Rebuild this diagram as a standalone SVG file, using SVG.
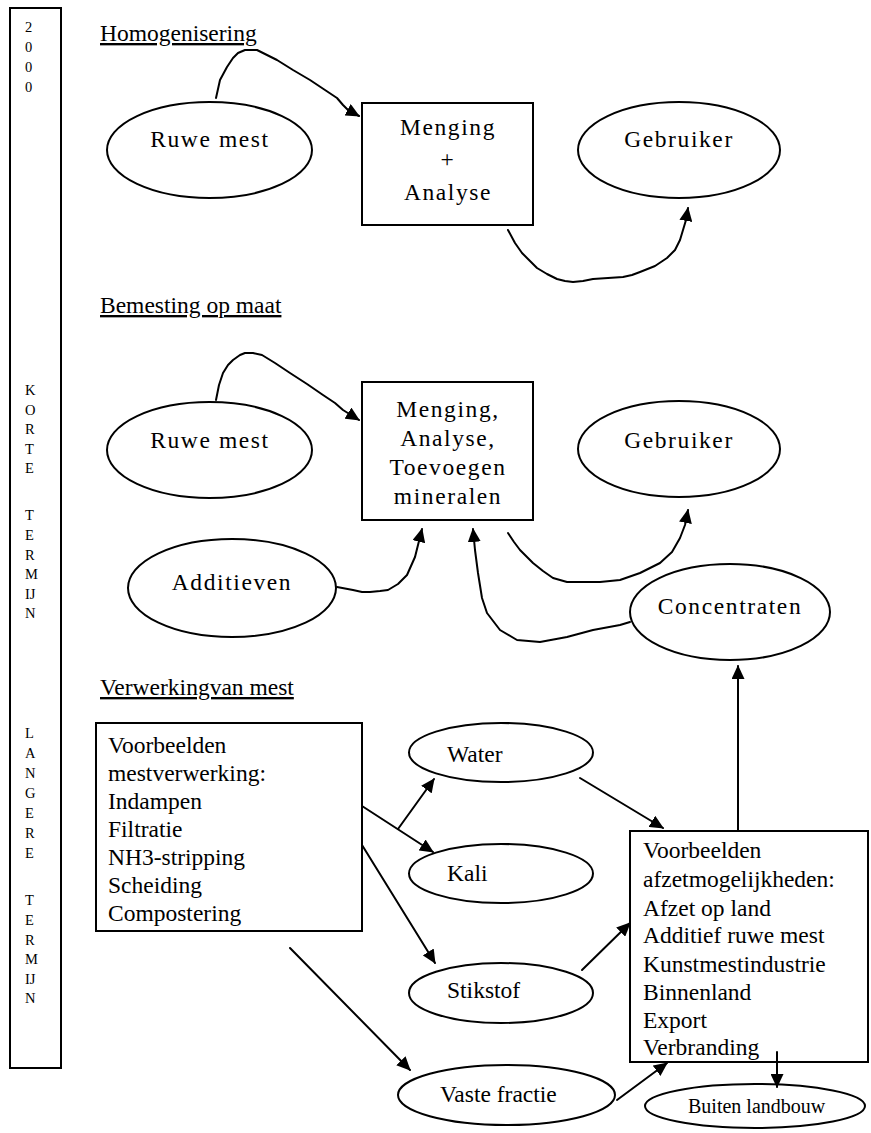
<svg xmlns="http://www.w3.org/2000/svg" width="871" height="1133" viewBox="0 0 871 1133">
<style>
.s{fill:none;stroke:#000;stroke-width:2}
.n{fill:#fff;stroke:#000;stroke-width:2}
.t{font-family:"Liberation Serif","Times New Roman",serif;font-size:23.5px;fill:#000}
.w{letter-spacing:1.6px}
.c{text-anchor:middle}
.h{text-decoration:underline}
.v{font-family:"Liberation Serif","Times New Roman",serif;font-size:14.5px;fill:#000}
.b{font-family:"Liberation Serif","Times New Roman",serif;font-size:20px;fill:#000}
.l{fill:none;stroke:#000;stroke-width:2;stroke-linejoin:round;stroke-linecap:round;marker-end:url(#ah)}
</style>
<defs>
<marker id="ah" markerUnits="userSpaceOnUse" markerWidth="14" markerHeight="13" viewBox="0 0 14 13" refX="13" refY="6.5" orient="auto">
<path d="M0,0 L14,6.5 L0,13 z" fill="#000"/>
</marker>
</defs>
<g id="timebar">
<rect x="10" y="8" width="51" height="1060" class="s" stroke-width="2.2"/>
<text class="v" x="25" y="32">2</text>
<text class="v" x="25" y="52">0</text>
<text class="v" x="25" y="72">0</text>
<text class="v" x="25" y="92">0</text>
<text class="v" x="25" y="395">K</text>
<text class="v" x="25" y="414.5">O</text>
<text class="v" x="25" y="434">R</text>
<text class="v" x="25" y="453.5">T</text>
<text class="v" x="25" y="473">E</text>
<text class="v" x="25" y="520">T</text>
<text class="v" x="25" y="540">E</text>
<text class="v" x="25" y="559.5">R</text>
<text class="v" x="25" y="579">M</text>
<text class="v" x="25" y="598.5">IJ</text>
<text class="v" x="25" y="618">N</text>
<text class="v" x="25" y="738">L</text>
<text class="v" x="25" y="758">A</text>
<text class="v" x="25" y="778">N</text>
<text class="v" x="25" y="798">G</text>
<text class="v" x="25" y="818">E</text>
<text class="v" x="25" y="838">R</text>
<text class="v" x="25" y="858">E</text>
<text class="v" x="25" y="905">T</text>
<text class="v" x="25" y="925">E</text>
<text class="v" x="25" y="945">R</text>
<text class="v" x="25" y="964">M</text>
<text class="v" x="25" y="984">IJ</text>
<text class="v" x="25" y="1003">N</text>
</g>
<g id="headings">
<text class="t h" x="100" y="41">Homogenisering</text>
<text class="t h" x="100" y="313">Bemesting op maat</text>
<text class="t h" x="100" y="695">Verwerkingvan mest</text>
</g>
<g id="ruwe-mest-1">
<ellipse class="n" cx="209.5" cy="150" rx="102.5" ry="48"/>
<text class="t w c" x="210" y="147">Ruwe mest</text>
</g>
<g id="menging-analyse">
<rect class="n" x="362" y="103" width="171" height="122"/>
<text class="t w c" x="448" y="135">Menging</text>
<text class="t w c" x="448" y="167">+</text>
<text class="t w c" x="448" y="200">Analyse</text>
</g>
<g id="gebruiker-1">
<ellipse class="n" cx="679" cy="150" rx="101" ry="48"/>
<text class="t w c" x="679" y="147">Gebruiker</text>
</g>
<g id="ruwe-mest-2">
<ellipse class="n" cx="209.5" cy="450" rx="102.5" ry="48"/>
<text class="t w c" x="210" y="448">Ruwe mest</text>
</g>
<g id="menging-toevoegen">
<rect class="n" x="362" y="382" width="171" height="138"/>
<text class="t w c" x="448" y="417">Menging,</text>
<text class="t w c" x="448" y="446">Analyse,</text>
<text class="t w c" x="448" y="475">Toevoegen</text>
<text class="t w c" x="448" y="504">mineralen</text>
</g>
<g id="gebruiker-2">
<ellipse class="n" cx="679" cy="449" rx="101" ry="48"/>
<text class="t w c" x="679" y="448">Gebruiker</text>
</g>
<g id="additieven">
<ellipse class="n" cx="232" cy="588" rx="104" ry="49"/>
<text class="t w c" x="232" y="590">Additieven</text>
</g>
<g id="concentraten">
<ellipse class="n" cx="730" cy="612" rx="100" ry="48"/>
<text class="t w c" x="730" y="614">Concentraten</text>
</g>
<g id="mestverwerking">
<rect class="n" x="96" y="723" width="266" height="208"/>
<text class="t" x="108" y="753">Voorbeelden</text>
<text class="t" x="108" y="781">mestverwerking:</text>
<text class="t" x="108" y="809">Indampen</text>
<text class="t" x="108" y="837">Filtratie</text>
<text class="t" x="108" y="865">NH3-stripping</text>
<text class="t" x="108" y="893">Scheiding</text>
<text class="t" x="108" y="921">Compostering</text>
</g>
<g id="water">
<ellipse class="n" cx="501" cy="752.5" rx="92" ry="29.5"/>
<text class="t" x="447" y="762">Water</text>
</g>
<g id="kali">
<ellipse class="n" cx="501" cy="873.5" rx="92" ry="29.5"/>
<text class="t" x="447" y="881">Kali</text>
</g>
<g id="stikstof">
<ellipse class="n" cx="501" cy="993" rx="92" ry="30"/>
<text class="t" x="447" y="998">Stikstof</text>
</g>
<g id="vaste-fractie">
<ellipse class="n" cx="506.5" cy="1095" rx="108.5" ry="30"/>
<text class="t" x="440" y="1102">Vaste fractie</text>
</g>
<g id="afzet">
<rect class="n" x="630" y="831" width="238" height="231"/>
<text class="t" x="643" y="858">Voorbeelden</text>
<text class="t" x="643" y="887">afzetmogelijkheden:</text>
<text class="t" x="643" y="916">Afzet op land</text>
<text class="t" x="643" y="943">Additief ruwe mest</text>
<text class="t" x="643" y="972">Kunstmestindustrie</text>
<text class="t" x="643" y="1000">Binnenland</text>
<text class="t" x="643" y="1028">Export</text>
<text class="t" x="643" y="1055">Verbranding</text>
</g>
<g id="buiten-landbouw">
<ellipse class="n" cx="755" cy="1106" rx="110" ry="22"/>
<text class="b" x="688" y="1113">Buiten landbouw</text>
</g>
<g id="connectors">
<path class="l" d="M216,98 L220,80 L227,67 L233,58 L238,53 L245,50 L257,50 L267,55 L277,60 L293,70 L310,80 L325,90 L337,98 L343,105 L348,110 L359,116"/>
<path class="l" d="M508,230 L515,243 L522,253 L530,261 L537,268 L547,274 L557,279 L565,281 L573,282 L583,281 L593,279 L608,278 L623,277 L632,275 L640,272 L655,266 L667,258 L675,250 L680,240 L683,230 L686,220 L688,208"/>
<path class="l" d="M216,400 L219,385 L223,373 L228,365 L233,360 L240,355 L245,353 L253,353 L262,355 L275,363 L290,373 L307,384 L323,395 L335,403 L343,410 L359,420"/>
<path class="l" d="M337,587 L353,590 L362,592 L370,592 L380,591 L388,590 L398,584 L407,575 L411,566 L415,557 L418,545 L422,529"/>
<path class="l" d="M630,622 L620,625 L593,630 L567,637 L540,642 L517,640 L500,630 L487,613 L482,598 L478,573 L475,550 L473,529"/>
<path class="l" d="M508,533 L514,542 L520,550 L527,557 L533,563 L543,571 L553,578 L567,582 L600,582 L620,580 L640,573 L660,563 L672,552 L680,538 L685,525 L688,510"/>
<path class="l" d="M362,806 L433,852"/>
<path class="l" d="M398,829 L434,779"/>
<path class="l" d="M362,845 L435,963"/>
<path class="l" d="M290,948 L410,1070"/>
<path class="l" d="M580,778 L663,828"/>
<path class="l" d="M582,970 L630,923"/>
<path class="l" d="M617,1100 L667,1063"/>
<path class="l" d="M738,830 L738,666"/>
<path class="l" d="M777,1052 L777,1087"/>
</g>
</svg>
